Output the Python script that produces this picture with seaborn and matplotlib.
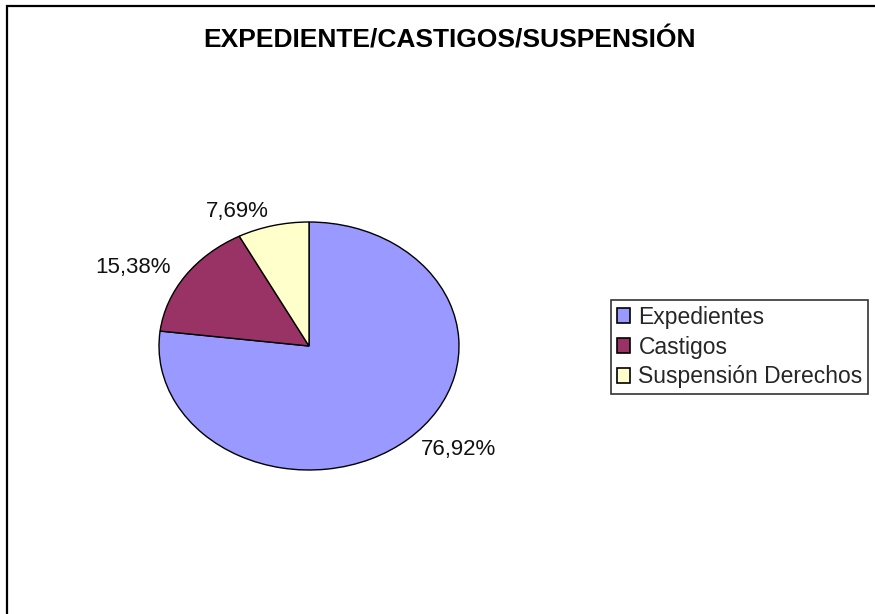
import matplotlib
matplotlib.use("Agg")
import matplotlib.pyplot as plt
import seaborn as sns
from matplotlib.patches import Rectangle

# data
categories = ["Expedientes", "Castigos", "Suspensión Derechos"]
counts = [10, 2, 1]
colors = ["#9999FF", "#993366", "#FFFFCC"]
title = "EXPEDIENTE/CASTIGOS/SUSPENSIÓN"

sns.set_theme(style="white")
plt.rcParams['font.family'] = ['Liberation Sans', 'DejaVu Sans']

total = sum(counts)
pct_labels = [f"{c / total * 100:.2f}%".replace(".", ",") for c in counts]

fig = plt.figure(figsize=(8.75, 6.14), dpi=100)
fig.patch.set_facecolor("white")

# outer chart border (right/bottom cut off in the reference)
fig.patches.append(Rectangle((7 / 875, -0.1), 1.2, 1.1 - 6 / 614,
                             transform=fig.transFigure, fill=False,
                             edgecolor="black", linewidth=1.6))

fig.text(450 / 875, 1 - 41 / 614, title, ha="center", va="center",
         fontsize=19, fontweight="bold", color="black")

ax = fig.add_axes([159 / 875, (614 - 470) / 614, 300 / 875, 248 / 614])
wedges, texts = ax.pie(counts, colors=colors, labels=pct_labels,
                       startangle=90, counterclock=False, labeldistance=1.12,
                       wedgeprops=dict(edgecolor="black", linewidth=1),
                       textprops=dict(fontsize=16, color="#111111"))
ax.set_aspect("auto")
ax.set_xlim(-1, 1)
ax.set_ylim(-1, 1)
ax.axis("off")

leg = fig.legend(wedges, categories, loc="upper left",
                 bbox_to_anchor=(611 / 875, 1 - 300 / 614),
                 fontsize=16.5, frameon=True, fancybox=False, shadow=False,
                 handlelength=0.6, handleheight=0.6, handletextpad=0.35,
                 borderpad=0.25, labelspacing=0.3, borderaxespad=0)
leg.get_frame().set_edgecolor("black")
leg.get_frame().set_linewidth(1.2)
for h in leg.legend_handles:
    h.set_edgecolor("black")
    h.set_linewidth(1.2)

fig.savefig("out.png", dpi=100, facecolor="white")
